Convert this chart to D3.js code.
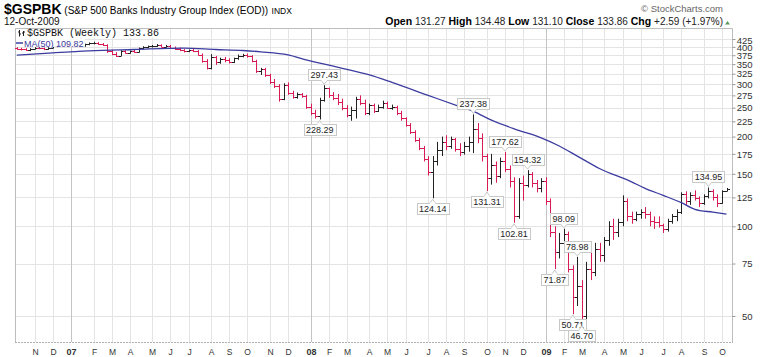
<!DOCTYPE html>
<html><head><meta charset="utf-8">
<script src="https://cdn.jsdelivr.net/npm/d3@7"></script>
<style>body{margin:0;background:#fff}svg{display:block}text{font-family:"Liberation Sans",Arial,sans-serif}</style>
</head><body>
<svg id="c" width="766" height="357"></svg>
<script>
// Weekly OHLC, first week = Mon 9-Oct-2006, last = Mon 12-Oct-2009
const opens = [397,393,392,390,394,397,395,392,398,402,405,408,406,403,406,404,408,411,413,409,
406,388,379,374,387,382,386,384,396,399,402,404,406,401,404,398,394,390,386,390,
387,377,358,341,369,355,365,361,356,366,373,377,372,359,331,336,322,305,296,268,
297,280,272,277,273,252,240,235,265,290,275,270,262,250,236,245,268,260,240,255,
244,252,260,250,252,240,230,219,207,195,183,168,152,165,180,192,186,196,182,178,
186,192,212,198,172,145,160,148,165,156,142,108,140,138,150,140,134,142,122,96,
82,88,94,72,58,63,50,72,70,84,80,90,100,96,103,122,108,106,110,112,
110,104,103,101,98,104,108,112,128,122,127,124,120,126,131,125,120,131.27];
const highs = [399,397,396,396,399,401,398,399,404,407,410,411,409,408,410,410,414,416,415,412,
408,391,384,390,390,389,391,398,402,404,406,409,408,406,406,401,398,393,392,394,
390,380,364,378,373,368,370,366,368,377,379,380,375,362,340,340,325,312,300,302,
304,285,281,280,276,258,246,270,297.43,292,282,278,268,255,252,272,275,266,258,258,
256,264,262,256,254,244,232,222,210,198,186,172,172,192,200,202,200,198,190,192,
200,237.38,222,205,175,175,165,170,177.62,160,146,145,148,154.32,152,143,145,146,124,100,
95,98.09,96,74,78.98,66,76,84,88,88,92,104,106,106,127,124,112,112,114,116,
112,108,108,102,106,110,114,130,131,130,132,126,128,134.95,133,128,132,134.48];
const lows = [391,389,388,387,392,393,390,391,396,399,402,404,400,401,402,401,405,408,406,403,
382,375,370,373,380,380,382,383,392,395,398,400,399,398,395,391,387,383,384,384,
374,354,336,336,348,351,355,352,353,362,369,368,355,327,322,317,300,291,262,265,
276,268,268,270,248,236,230,228.29,262,270,265,255,245,232,226,230,255,236,236,240,
242,248,248,246,236,226,216,204,192,180,165,148,124.14,160,172,180,182,178,172,174,
178,176,190,165,131.31,138,140,145,152,135,102.81,106,122,135,135,130,130,118,92,71.87,
78,82,70,50.71,54,46.70,48,66,68,76,76,86,90,92,100,104,102,104,106,106,
100,98,99,95,96,102,104,110,118,118,122,116,118,124,122,116,119,131.10];
const closes = [393,392,390,394,397,395,392,398,402,405,408,406,403,406,404,408,411,413,409,406,
388,379,374,387,382,386,384,396,399,402,404,406,401,404,398,394,390,386,390,387,
377,358,341,369,355,365,361,356,366,373,377,372,359,331,336,322,305,296,268,297,
280,272,277,273,252,240,235,265,290,275,270,262,250,236,245,268,260,240,255,244,
252,260,250,252,240,230,219,207,195,183,168,152,165,180,192,186,196,182,178,186,
192,212,198,172,145,160,148,165,156,142,108,140,138,150,140,134,142,122,96,82,
88,94,72,58,63,50,72,70,84,80,90,100,96,103,122,108,106,110,112,110,
104,103,101,98,104,108,112,128,122,127,124,120,126,131,125,120,131.27,133.86];
// MA(50) at these week indices
const maWeek = [0,8,16,26,37,44,50,54,60,64,72,78,83,91,98,101,105,111,116,120,124,129,136,139,143,147,150,154,157];
const maValue = [375,382,388,392,396,392,389,385,376,362,339,322,304,275,252,243,227,210,198,186,172,156,141,134,127,120,114,111.5,109.82];
// annotated highs (h) and lows (l)
const noteWeek = [68,67,92,101,104,108,110,113,119,121,123,124,125,153];
const noteKind = ['h','l','l','h','l','h','l','h','l','h','l','h','l','h'];
const yTicks = [50,75,100,125,150,175,200,225,250,275,300,325,350,375,400,425];
const monthLetters = ['J','F','M','A','M','J','J','A','S','O','N','D'];
const header = {sym:'$GSPBK', name:'(S&P 500 Banks Industry Group Index (EOD))', ex:'INDX', date:'12-Oct-2009'};
const quote = [['Open','131.27'],['High','134.48'],['Low','131.10'],['Close','133.86'],['Chg','+2.59 (+1.97%)']];

const svg = d3.select('#c');
const P = {l:15, r:732, t:28.5, b:342};
const n = closes.length;
const dates = d3.timeMonday.range(new Date(2006,9,9), new Date(2009,9,13));
const x = d3.scaleLinear().domain([0, n-1]).range([16.8, 726.5]);
const y = d3.scaleLog().domain([40.9, 461]).range([P.b, P.t]);
const cx = i => Math.round(x(i)) + 0.5;
const cy = v => Math.round(y(v)) + 0.5;

// grid
const monthIdx = [];
for (let i = 1; i < n; i++) if (dates[i].getMonth() !== dates[i-1].getMonth()) monthIdx.push(i);
const grid = svg.append('g');
grid.selectAll('line.h').data(yTicks).join('line')
  .attr('x1', P.l).attr('x2', P.r).attr('y1', d => cy(d)).attr('y2', d => cy(d))
  .attr('stroke', '#e4e4e4');
grid.selectAll('line.v').data(monthIdx).join('line')
  .attr('x1', d => cx(d)).attr('x2', d => cx(d)).attr('y1', P.t).attr('y2', P.b)
  .attr('stroke', d => dates[d].getMonth() === 0 ? '#c4c4c4' : '#e4e4e4');

// frame
svg.append('path').attr('d', `M${P.l+0.5},${P.b}V${P.t}H${P.r+0.5}V${P.b}`)
  .attr('fill', 'none').attr('stroke', '#bdbdbd');
svg.append('line').attr('x1', P.l).attr('x2', P.r+1).attr('y1', P.b+0.5).attr('y2', P.b+0.5)
  .attr('stroke', '#b0b0b0').attr('stroke-dasharray', '2,1');

// right axis
const ya = svg.append('g').attr('transform', `translate(${P.r+0.5},0)`)
  .call(d3.axisRight(y).tickValues(yTicks).tickFormat(d3.format('d')).tickSize(3));
ya.select('.domain').remove();
ya.selectAll('line').attr('stroke', '#999');
ya.selectAll('text').attr('x', 20).attr('text-anchor', 'end').attr('dy', '0.34em')
  .style('font-size', '9.5px').style('font-family', '"Liberation Sans",Arial,sans-serif').attr('fill', '#333');
ya.selectAll('.tick').filter(d => d === 425).select('text').attr('y', 1.5);

// bottom axis
const xa = svg.append('g').attr('transform', `translate(0,${P.b})`)
  .call(d3.axisBottom(x).tickValues(monthIdx).tickSize(0)
    .tickFormat(i => dates[i].getMonth() === 0 ? d3.timeFormat('%y')(dates[i]) : monthLetters[dates[i].getMonth()]));
xa.select('.domain').remove();
xa.selectAll('.tick').attr('transform', d => `translate(${cx(d)},0)`);
xa.selectAll('text').attr('y', 7).attr('fill', '#333')
  .style('font-family', '"Liberation Sans",Arial,sans-serif')
  .style('font-size', d => dates[d].getMonth() === 0 ? '9px' : '8.5px')
  .style('font-weight', d => dates[d].getMonth() === 0 ? 'bold' : 'normal');

// bars
const bars = svg.append('g');
bars.selectAll('path').data(d3.range(n)).join('path')
  .attr('d', i => {
    const xi = cx(i);
    return `M${xi},${y(highs[i])}V${y(lows[i])}M${xi-2.5},${cy(opens[i])}H${xi}M${xi},${cy(closes[i])}H${xi+2.5}`;
  })
  .attr('fill', 'none').attr('stroke-width', 1)
  .attr('stroke', i => {
    const prev = i === 0 ? opens[0] : closes[i-1];
    return closes[i] < prev ? '#d81b55' : '#222';
  });

// MA line
svg.append('path').datum(maWeek.map((w, k) => [w, maValue[k]]))
  .attr('d', d3.line().x(d => x(d[0])).y(d => y(d[1])).curve(d3.curveMonotoneX))
  .attr('fill', 'none').attr('stroke', '#3c3ca0').attr('stroke-width', 1.3);

// annotations
const notes = svg.append('g');
noteWeek.forEach((w, k) => {
  const hi = noteKind[k] === 'h';
  const v = hi ? highs[w] : lows[w];
  const px = x(w), py = y(v);
  const g = notes.append('g');
  const t = g.append('text').text(v.toFixed(2)).attr('x', px).attr('text-anchor', 'middle')
    .style('font-size', '9px').attr('fill', '#222');
  const tw = t.node().getComputedTextLength();
  const bw = Math.round(tw + 4), bh = 11;
  const bx = Math.round(px - bw/2) + 0.5;
  const by = hi ? Math.round(py - 5 - bh) + 0.5 : Math.round(py + 5) + 0.5;
  g.insert('rect', 'text').attr('x', bx).attr('y', by).attr('width', bw).attr('height', bh)
    .attr('fill', '#fff').attr('stroke', '#c8c8c8');
  const ey = hi ? by + bh : by;
  const tip = hi ? py - 1 : py + 1;
  g.insert('path', 'text').attr('d', `M${px-3},${ey}L${px},${tip}L${px+3},${ey}`)
    .attr('fill', '#fff').attr('stroke', '#c8c8c8');
  g.insert('rect', 'text').attr('x', px-2.5).attr('y', ey-1).attr('width', 5).attr('height', 1.5).attr('fill', '#fff');
  t.attr('y', by + 8.5);
});

// legend
const lg = svg.append('g');
lg.append('rect').attr('x', 16).attr('y', 29).attr('width', 146).attr('height', 9).attr('fill', '#fff').attr('opacity', 0.9);
lg.append('rect').attr('x', 16).attr('y', 38).attr('width', 69).attr('height', 9).attr('fill', '#fff').attr('opacity', 0.9);
lg.append('path').attr('d', 'M19.5,30V36.5M18,32H19.5M19.5,34H21M23.5,31V36M22,33H23.5M23.5,32H25')
  .attr('stroke', '#222').attr('fill', 'none');
lg.append('text').attr('x', 27).attr('y', 35.5).text(`${header.sym} (Weekly) ${closes[n-1].toFixed(2)}`)
  .style('font-family', '"Liberation Mono","DejaVu Sans Mono",monospace').style('font-size', '10px').attr('fill', '#111');
lg.append('line').attr('x1', 16).attr('x2', 23).attr('y1', 43).attr('y2', 43).attr('stroke', '#3c3ca0').attr('stroke-width', 1.5);
lg.append('text').attr('x', 24).attr('y', 46.5).text(`MA(50) ${maValue[maValue.length-1].toFixed(2)}`)
  .style('font-size', '9px').attr('fill', '#3c3ca0');

// header
const h1 = svg.append('text').attr('x', 4).attr('y', 14);
h1.append('tspan').text(header.sym).style('font-weight', 'bold').style('font-size', '14px');
h1.append('tspan').text(' ' + header.name).style('font-size', '10px');
h1.append('tspan').text(' ' + header.ex).style('font-size', '8.5px').attr('dx', 1);
svg.append('text').attr('x', 4).attr('y', 24.5).text(header.date).style('font-size', '10px').attr('fill', '#111');
svg.append('text').attr('x', 723).attr('y', 12).attr('text-anchor', 'end').text('\u00A9 StockCharts.com')
  .style('font-size', '9.5px').attr('fill', '#666');
const q = svg.append('text').attr('x', 723).attr('y', 25).attr('text-anchor', 'end');
quote.forEach(([k, v], j) => {
  q.append('tspan').text((j ? '  ' : '') + k + ' ').style('font-weight', 'bold').style('font-size', '10.5px').attr('fill', '#000');
  q.append('tspan').text(v).style('font-size', '10px').attr('fill', '#222');
});
svg.append('path').attr('d', 'M725,24.5L727.5,21L730,24.5Z').attr('fill', '#5a9a5a');
</script>
</body></html>
